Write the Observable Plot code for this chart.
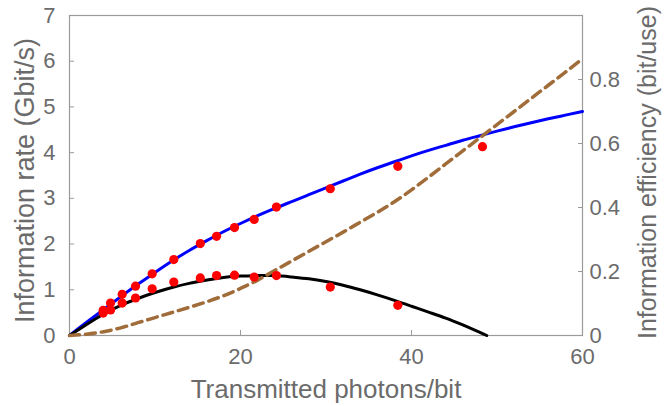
<!DOCTYPE html>
<html>
<head>
<meta charset="utf-8">
<script src="https://cdn.jsdelivr.net/npm/d3@7"></script>
<script src="https://cdn.jsdelivr.net/npm/@observablehq/plot@0.6"></script>
<style>
html,body{margin:0;padding:0;background:#fff;}
#chart svg{display:block;}
</style>
</head>
<body>
<div id="chart"></div>
<script>
// Model curves (x = transmitted photons/bit)
const curveX = [0,2,4,6,8,10,12,14,16,18,20,22,24,26,28,30,32,34,36,38,40,42,44,46,48,50,52,54,56,58,60];
const rateCurve = [0,0.29,0.57,0.85,1.12,1.38,1.63,1.86,2.07,2.27,2.45,2.62,2.78,2.93,3.08,3.23,3.38,3.53,3.67,3.80,3.93,4.05,4.16,4.27,4.37,4.47,4.565,4.655,4.74,4.82,4.90];
const efficiencyCurve = [0,0.004,0.012,0.024,0.04,0.056,0.072,0.088,0.105,0.124,0.147,0.173,0.203,0.233,0.263,0.293,0.323,0.354,0.385,0.418,0.455,0.495,0.536,0.577,0.618,0.659,0.70,0.741,0.782,0.823,0.865];
const netX = [0,2,4,6,8,10,12,14,16,18,20,22,24,26,28,30,32,34,36,38,40,42,44,46,48,48.8];
const netRateCurve = [0,0.24,0.47,0.66,0.81,0.94,1.05,1.14,1.21,1.27,1.30,1.31,1.31,1.28,1.24,1.18,1.10,1.00,0.89,0.77,0.64,0.51,0.38,0.23,0.07,0];

// Measured points
const measX = [3.94,4.8,6.16,7.72,9.67,12.2,15.3,17.2,19.3,21.6,24.2,30.5,38.4,48.3];
const measUpper = [0.55,0.71,0.90,1.08,1.35,1.66,2.01,2.17,2.36,2.54,2.81,3.21,3.70,4.13];
const measLower = [0.49,0.56,0.71,0.82,1.02,1.17,1.26,1.31,1.32,1.28,1.31,1.06,0.66,null];

// Axes
const xTicks = [0,20,40,60];
const yTicks = [0,1,2,3,4,5,6,7];
const effTicks = [0,0.2,0.4,0.6,0.8];
const rateMax = 7;
const effMax = 1;
const xLabel = "Transmitted photons/bit";
const yLabel = "Information rate (Gbit/s)";
const y2Label = "Information efficiency (bit/use)";

const s = rateMax / effMax;
const blue = curveX.map((x, i) => ({x, y: rateCurve[i]}));
const brown = curveX.map((x, i) => ({x, y: efficiencyCurve[i] * s}));
const black = netX.map((x, i) => ({x, y: netRateCurve[i]}));
const dotsUpper = measX.map((x, i) => ({x, y: measUpper[i]}));
const dotsLower = measX.map((x, i) => ({x, y: measLower[i]})).filter(d => d.y != null);
const fmtEff = d => { const v = Math.round(d / s * 10) / 10; return v === 0 ? "0" : v.toFixed(1); };

const grey = "#6b6b6b";
const frameGrey = "#9a9a9a";
const font = "'Liberation Sans', Arial, Helvetica, sans-serif";

const chart = Plot.plot({
  width: 670,
  height: 406,
  marginLeft: 69,
  marginRight: 88,
  marginTop: 15,
  marginBottom: 71,
  style: {fontFamily: font, background: "#fff", overflow: "visible"},
  x: {domain: [0, 60]},
  y: {domain: [0, rateMax]},
  marks: [
    Plot.frame({stroke: frameGrey, strokeWidth: 1.2}),
    Plot.axisX(xTicks, {anchor: "bottom", tickSize: -5, tickPadding: 18, stroke: frameGrey, fill: grey, fontSize: 22, label: null}),
    Plot.axisY(yTicks, {anchor: "left", tickSize: -5, tickPadding: 19, stroke: frameGrey, fill: grey, fontSize: 22, label: null}),
    Plot.axisY(effTicks.map(t => t * s), {anchor: "right", tickSize: -5, tickPadding: 12, tickFormat: fmtEff, stroke: frameGrey, fill: grey, fontSize: 22, label: null}),
    Plot.text([xLabel], {frameAnchor: "bottom", dy: 54, fontSize: 26, fill: grey, textAnchor: "middle", lineAnchor: "middle"}),
    Plot.text([yLabel], {frameAnchor: "left", dx: -44, dy: 5, rotate: -90, fontSize: 27, fill: grey, textAnchor: "middle", lineAnchor: "middle"}),
    Plot.text([y2Label], {frameAnchor: "right", dx: 65, dy: -3, rotate: -90, fontSize: 25, fill: grey, textAnchor: "middle", lineAnchor: "middle"}),
    Plot.line(blue, {x: "x", y: "y", stroke: "#0000ff", strokeWidth: 3, curve: "natural"}),
    Plot.line(black, {x: "x", y: "y", stroke: "#000", strokeWidth: 3, curve: "natural"}),
    Plot.line(brown, {x: "x", y: "y", stroke: "#a06d3a", strokeWidth: 3.5, strokeDasharray: "10,6", curve: "natural"}),
    Plot.dot(dotsUpper, {x: "x", y: "y", r: 4.6, fill: "#ff0000", stroke: "none"}),
    Plot.dot(dotsLower, {x: "x", y: "y", r: 4.6, fill: "#ff0000", stroke: "none"})
  ]
});
document.getElementById("chart").append(chart);
</script>
</body>
</html>
